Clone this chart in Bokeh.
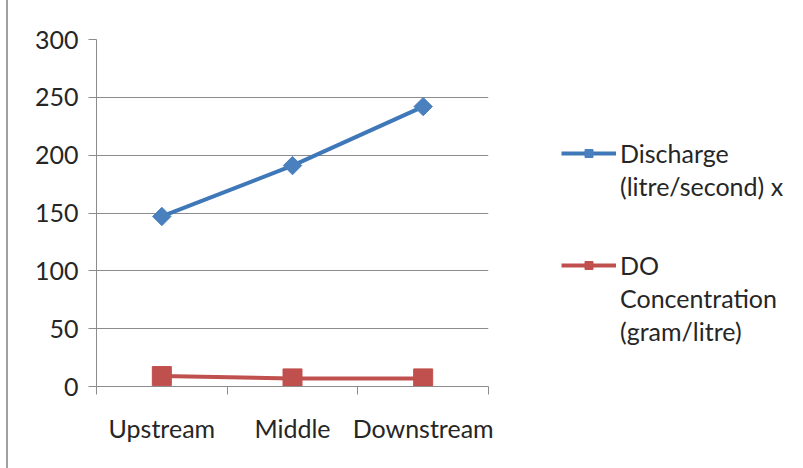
import math
from bokeh.plotting import figure
from bokeh.models import FixedTicker, Legend, LegendItem, Range1d
from bokeh.embed import file_html
from bokeh.resources import INLINE

categories = ["Upstream", "Middle", "Downstream"]
discharge = [147, 191, 242]
do_conc = [9, 7, 7]
y_ticks = [0, 50, 100, 150, 200, 250, 300]
legend_rows_1 = ["Discharge", "(litre/second) x"]
legend_rows_2 = ["DO", "Concentration", "(gram/litre)"]

xs = [i + 0.5 for i in range(len(categories))]

FONT = "Lato"
GRID = "#8c8c8c"
TXT = "#262626"

p = figure(frame_width=392, frame_height=347, min_border_left=88, min_border_top=39,
           min_border_bottom=82, min_border_right=315,
           x_range=Range1d(0, len(categories)), y_range=Range1d(0, 300),
           output_backend="svg", toolbar_location=None)
p.outline_line_color = None
p.background_fill_color = "white"

p.xaxis.ticker = FixedTicker(ticks=xs, minor_ticks=list(range(len(categories) + 1)))
p.xaxis.major_label_overrides = {x: c for x, c in zip(xs, categories)}
p.xaxis.major_tick_line_color = None
p.xaxis.major_tick_out = 0
p.xaxis.major_tick_in = 0
p.xaxis.minor_tick_out = 8
p.xaxis.minor_tick_in = 0
p.xaxis.minor_tick_line_color = GRID
p.xaxis.axis_line_color = GRID
p.xaxis.major_label_standoff = 18

p.yaxis.ticker = FixedTicker(ticks=y_ticks)
p.yaxis.minor_tick_line_color = None
p.yaxis.major_tick_out = 8
p.yaxis.major_tick_in = 0
p.yaxis.major_tick_line_color = GRID
p.yaxis.axis_line_color = GRID
p.yaxis.major_label_standoff = 10

for ax in (p.xaxis, p.yaxis):
    ax.major_label_text_font = FONT
    ax.major_label_text_font_size = "25px"
    ax.major_label_text_color = TXT

p.xgrid.grid_line_color = None
p.ygrid.ticker = FixedTicker(ticks=y_ticks)
p.ygrid.grid_line_color = GRID
p.ygrid.grid_line_width = 1

l1 = p.line(xs, discharge, line_color="#3f78b8", line_width=4)
m1 = p.scatter(xs, discharge, marker="square", angle=math.pi / 4, size=13,
               fill_color="#4a80bd", line_color="#4a80bd")
l2 = p.line(xs, do_conc, line_color="#c0504d", line_width=4)
m2 = p.scatter(xs, do_conc, marker="square", size=19, fill_color="#c0504d",
               line_color="#c0504d")

items = [LegendItem(label=legend_rows_1[0], renderers=[l1, m1])]
items += [LegendItem(label=t, renderers=[]) for t in legend_rows_1[1:]]
items += [LegendItem(label=" ", renderers=[]), LegendItem(label=" ", renderers=[])]
items += [LegendItem(label=legend_rows_2[0], renderers=[l2, m2])]
items += [LegendItem(label=t, renderers=[]) for t in legend_rows_2[1:]]

legend = Legend(items=items, location=(73, 40))
legend.border_line_color = None
legend.background_fill_alpha = 0
legend.margin = 0
legend.padding = 10
legend.label_text_font = FONT
legend.label_text_font_size = "25px"
legend.label_text_color = TXT
legend.glyph_width = 55
legend.glyph_height = 20
legend.label_standoff = 4
legend.spacing = 3
p.add_layout(legend, "right")

p.styles = {"border-left": "2px solid #a0a0a0", "margin-left": "6px"}

open("out.html", "w").write(file_html(p, INLINE))
